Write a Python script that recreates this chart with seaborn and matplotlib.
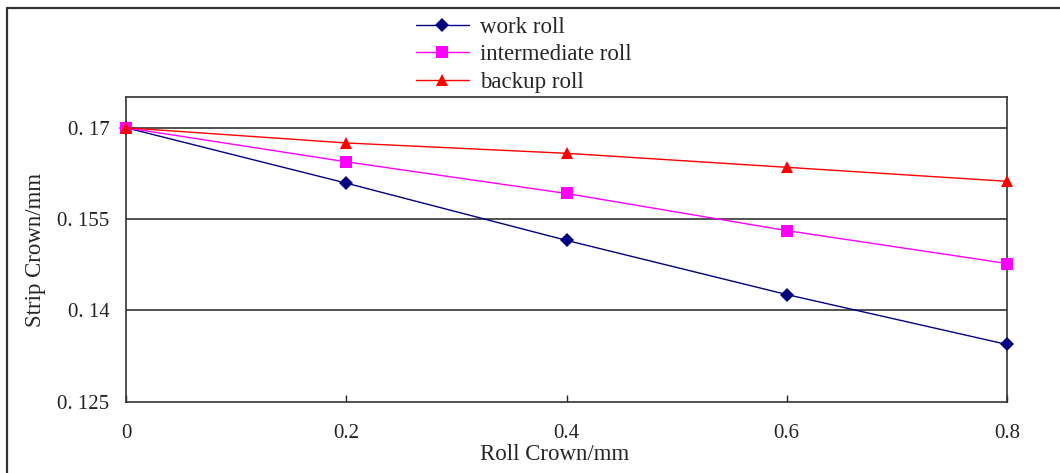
import matplotlib
matplotlib.use("Agg")
import matplotlib.pyplot as plt
from matplotlib.lines import Line2D
import seaborn as sns
import pandas as pd

roll_crown = [0.0, 0.2, 0.4, 0.6, 0.8]
work_roll = [0.1700, 0.1609, 0.1515, 0.1426, 0.1344]
intermediate_roll = [0.1700, 0.1644, 0.1592, 0.1531, 0.1477]
backup_roll = [0.1700, 0.1675, 0.1658, 0.1635, 0.1612]
series_names = ["work roll", "intermediate roll", "backup roll"]
y_ticks = [0.125, 0.14, 0.155, 0.17]
y_tick_labels = ["0. 125", "0. 14", "0. 155", "0. 17"]
x_ticks = [0.0, 0.2, 0.4, 0.6, 0.8]
x_tick_labels = ["0", "0.2", "0.4", "0.6", "0.8"]

rows = []
for name, vals in zip(series_names, [work_roll, intermediate_roll, backup_roll]):
    for x, y in zip(roll_crown, vals):
        rows.append({"Roll Crown": x, "Strip Crown": y, "series": name})
df = pd.DataFrame(rows)

sns.set_theme(style="white")
plt.rcParams["font.family"] = ["Liberation Serif", "DejaVu Serif"]

fig = plt.figure(figsize=(10.6, 4.73), dpi=100)
ax = fig.add_axes([126 / 1060, 1 - 401.7 / 473, (1007 - 126) / 1060, (401.7 - 97.3) / 473])

palette = {"work roll": "#000080", "intermediate roll": "#FF00FF", "backup roll": "#FF0000"}
markers = {"work roll": "D", "intermediate roll": "s", "backup roll": "^"}
sizes_ms = {"work roll": 7.0, "intermediate roll": 8.0, "backup roll": 9.0}

for name in series_names:
    sub = df[df["series"] == name]
    sns.lineplot(data=sub, x="Roll Crown", y="Strip Crown", ax=ax, color=palette[name],
                 marker=markers[name], markersize=sizes_ms[name], markeredgewidth=0,
                 linewidth=1.0, label=name, clip_on=False, zorder=3)

ax.set_xlim(0, 0.8)
ax.set_ylim(0.125, 0.175)
ax.set_yticks(y_ticks)
ax.set_yticklabels(y_tick_labels)
ax.set_xticks(x_ticks)
ax.set_xticklabels(x_tick_labels)
for y in y_ticks[1:]:
    ax.axhline(y, color="#222222", linewidth=1.1, zorder=1)

ax.tick_params(axis="y", length=0, pad=12, labelsize=15, colors="#222222")
ax.tick_params(axis="x", direction="in", length=5, width=1, pad=16, labelsize=15,
               colors="#222222", bottom=True)
for s in ax.spines.values():
    s.set_color("#333333")
    s.set_linewidth(1.2)
    s.set_visible(True)

ax.set_xlabel("Roll Crown/mm", fontsize=16.5)
ax.xaxis.set_label_coords((555 - 126) / (1007 - 126), -0.14)
ax.set_ylabel("Strip Crown/mm", fontsize=16.5, labelpad=8)

handles, labels = ax.get_legend_handles_labels()
ax.legend(handles, labels, loc="upper left", bbox_to_anchor=(400 / 1060, 1 - 1 / 473),
          bbox_transform=fig.transFigure, frameon=False, fontsize=16.5,
          handlelength=2.3, handletextpad=0.5, labelspacing=0.27, borderpad=0.2)

fig.add_artist(Line2D([7 / 1060, 1], [1 - 8 / 473, 1 - 8 / 473], transform=fig.transFigure,
                      color="#333333", linewidth=1.6))
fig.add_artist(Line2D([7 / 1060, 7 / 1060], [0, 1 - 8 / 473], transform=fig.transFigure,
                      color="#333333", linewidth=1.6))

fig.savefig("out.png", dpi=100)
